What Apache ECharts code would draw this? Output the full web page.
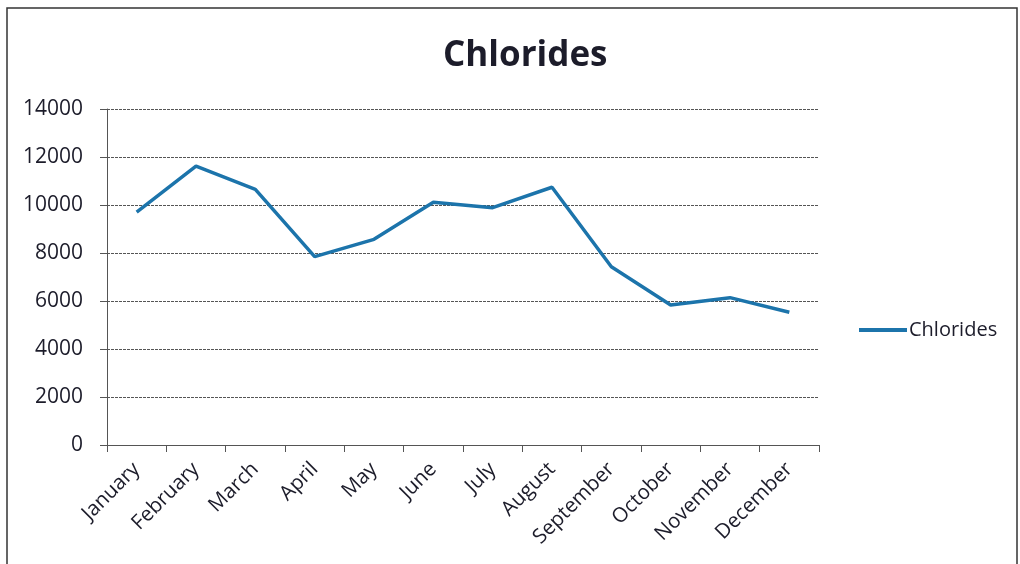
<!DOCTYPE html>
<html>
<head>
<meta charset="utf-8">
<script src="https://cdn.jsdelivr.net/npm/echarts@6/dist/echarts.min.js"></script>
<style>html,body{margin:0;padding:0;background:#fff}#c{width:1020px;height:564px}</style>
</head>
<body>
<div id="c"></div>
<script>
const categories = ['January','February','March','April','May','June','July','August','September','October','November','December'];
const chlorides = [9700, 11620, 10650, 7850, 8570, 10110, 9890, 10740, 7430, 5830, 6140, 5530];
const seriesName = 'Chlorides';
const yMin = 0, yMax = 14000, yStep = 2000;

const FONT = '"Open Sans", "Noto Sans", sans-serif';
const chart = echarts.init(document.getElementById('c'), null, {renderer: 'canvas'});
chart.setOption({
  backgroundColor: '#fff',
  animation: false,
  title: {
    text: 'Chlorides', left: 438, top: 34,
    textStyle: {fontFamily: FONT, fontSize: 35, fontWeight: 'bold', color: '#1c1c2a'}
  },
  legend: {
    data: [seriesName], left: 854, top: 315, icon: 'rect', itemWidth: 48, itemHeight: 4, itemGap: 4,
    textStyle: {fontFamily: FONT, fontSize: 20, color: '#1c1c2a', padding: [0,0,0,-3]}
  },
  grid: {left: 107, right: 201, top: 109, bottom: 119, containLabel: false},
  xAxis: {
    type: 'category', data: categories, boundaryGap: true,
    axisLine: {lineStyle: {color: '#555', width: 1}},
    axisTick: {show: true, length: 7, lineStyle: {color: '#555'}},
    axisLabel: {rotate: 45, margin: 21, fontFamily: FONT, fontSize: 20.5, color: '#1c1c2a'}
  },
  yAxis: {
    type: 'value', min: yMin, max: yMax, interval: yStep,
    axisLine: {show: true, lineStyle: {color: '#555', width: 1}},
    axisTick: {show: true, length: 7, lineStyle: {color: '#555'}},
    axisLabel: {margin: 24, fontFamily: FONT, fontSize: 21, color: '#1c1c2a', formatter: v => String(v)},
    splitLine: {lineStyle: {color: '#555', width: 1, type: [3, 1]}}
  },
  series: [{
    name: seriesName, type: 'line', data: chlorides, showSymbol: false, symbol: 'none',
    lineStyle: {color: '#1c74ab', width: 3.5}, itemStyle: {color: '#1c74ab'}
  }],
  graphic: [{
    type: 'rect', shape: {x: 7, y: 8, width: 1010, height: 570},
    style: {fill: 'none', stroke: '#333', lineWidth: 1.5}, silent: true
  }]
});
</script>
</body>
</html>
